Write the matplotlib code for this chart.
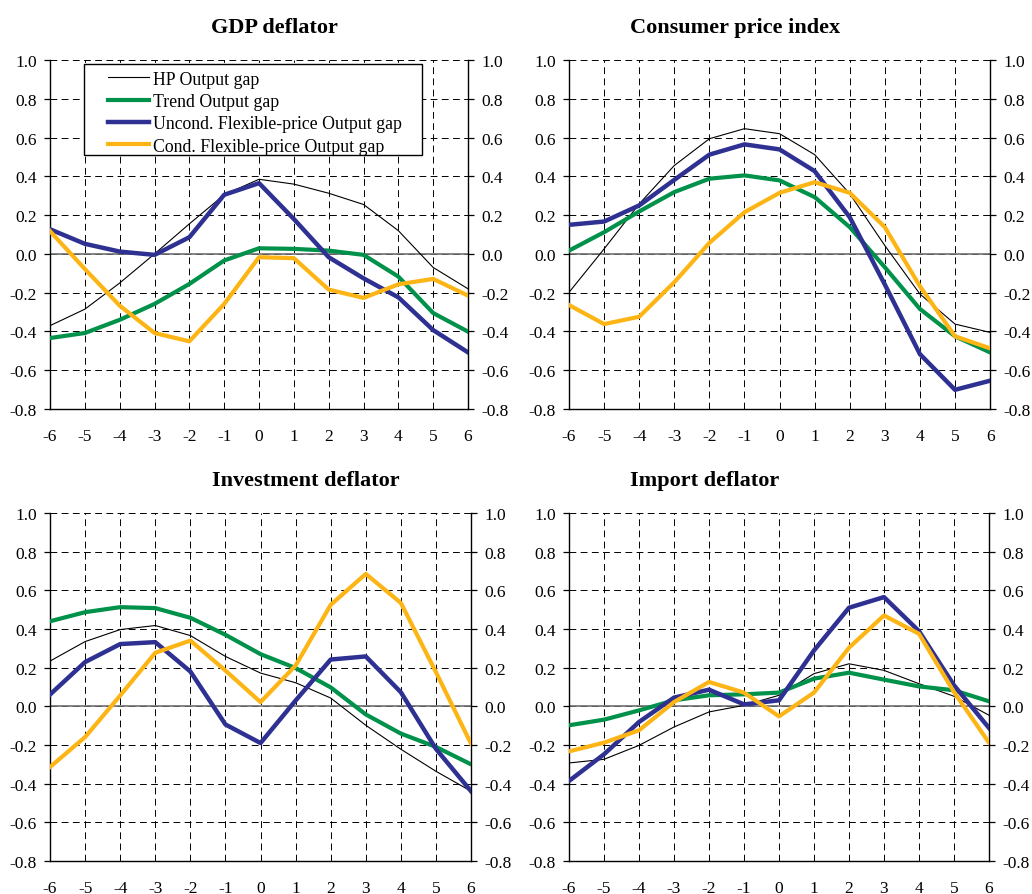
import matplotlib.pyplot as plt
from matplotlib.patches import Rectangle

plt.rcParams['font.family'] = ['Liberation Serif', 'DejaVu Serif']
plt.rcParams['axes.unicode_minus'] = False

# Horizons (quarters) of the cross-correlations
horizons = [-6, -5, -4, -3, -2, -1, 0, 1, 2, 3, 4, 5, 6]

series_names = ['HP Output gap', 'Trend Output gap',
                'Uncond. Flexible-price Output gap', 'Cond. Flexible-price Output gap']

# GDP deflator
gdp_hp = [-0.37, -0.285, -0.15, 0.0, 0.155, 0.305, 0.385, 0.36, 0.313, 0.255, 0.12, -0.07, -0.18]
gdp_trend = [-0.434, -0.408, -0.34, -0.258, -0.155, -0.034, 0.029, 0.026, 0.017, -0.005, -0.117, -0.305, -0.401]
gdp_uncond = [0.127, 0.052, 0.012, -0.005, 0.086, 0.305, 0.365, 0.18, -0.017, -0.126, -0.224, -0.393, -0.508]
gdp_cond = [0.117, -0.078, -0.267, -0.408, -0.451, -0.258, -0.017, -0.022, -0.184, -0.227, -0.157, -0.129, -0.215]

# Consumer price index
cpi_hp = [-0.198, 0.026, 0.258, 0.456, 0.594, 0.646, 0.62, 0.512, 0.31, 0.043, -0.207, -0.362, -0.405]
cpi_trend = [0.017, 0.112, 0.219, 0.319, 0.388, 0.405, 0.379, 0.293, 0.138, -0.069, -0.284, -0.425, -0.508]
cpi_uncond = [0.15, 0.167, 0.25, 0.382, 0.512, 0.565, 0.539, 0.427, 0.189, -0.158, -0.517, -0.701, -0.654]
cpi_cond = [-0.264, -0.362, -0.324, -0.146, 0.057, 0.215, 0.315, 0.37, 0.315, 0.138, -0.167, -0.425, -0.487]

# Investment deflator
inv_hp = [0.234, 0.335, 0.397, 0.418, 0.366, 0.258, 0.172, 0.122, 0.043, -0.098, -0.222, -0.336, -0.439]
inv_trend = [0.44, 0.487, 0.513, 0.508, 0.458, 0.37, 0.27, 0.198, 0.098, -0.042, -0.141, -0.21, -0.3]
inv_uncond = [0.061, 0.229, 0.322, 0.332, 0.18, -0.094, -0.19, 0.03, 0.242, 0.258, 0.073, -0.22, -0.439]
inv_cond = [-0.314, -0.159, 0.056, 0.277, 0.34, 0.185, 0.022, 0.211, 0.525, 0.685, 0.535, 0.177, -0.193]

# Import deflator
imp_hp = [-0.293, -0.274, -0.202, -0.107, -0.029, 0.005, 0.057, 0.169, 0.22, 0.186, 0.117, 0.052, -0.046]
imp_trend = [-0.098, -0.069, -0.021, 0.031, 0.057, 0.062, 0.071, 0.143, 0.174, 0.138, 0.103, 0.083, 0.026]
imp_uncond = [-0.386, -0.248, -0.081, 0.045, 0.086, 0.01, 0.031, 0.289, 0.51, 0.565, 0.389, 0.109, -0.112]
imp_cond = [-0.233, -0.188, -0.124, 0.022, 0.126, 0.071, -0.052, 0.071, 0.303, 0.47, 0.375, 0.074, -0.188]

panels = [
    ('GDP deflator', [gdp_hp, gdp_trend, gdp_uncond, gdp_cond]),
    ('Consumer price index', [cpi_hp, cpi_trend, cpi_uncond, cpi_cond]),
    ('Investment deflator', [inv_hp, inv_trend, inv_uncond, inv_cond]),
    ('Import deflator', [imp_hp, imp_trend, imp_uncond, imp_cond]),
]

colors = ['black', '#00914A', '#2E3192', '#FDB515']
widths = [0.8, 3.0, 3.2, 3.0]

boxes = [
    [0.0485, 0.5419, 0.4050, 0.3899],
    [0.5514, 0.5419, 0.4080, 0.3899],
    [0.0485, 0.0369, 0.4079, 0.3888],
    [0.5514, 0.0369, 0.4069, 0.3888],
]
# titles are left aligned, x in axes fraction
title_x = [0.385, 0.145, 0.385, 0.145]

fig = plt.figure(figsize=(10.32, 8.95), dpi=100)

for i, (title, data) in enumerate(panels):
    ax = fig.add_axes(boxes[i])

    ax.axhline(0, color='#707070', linewidth=1.2, zorder=1)
    for serie, name, c, lw in zip(data, series_names, colors, widths):
        ax.plot(horizons, serie, color=c, linewidth=lw, label=name, zorder=3)

    ax.set_xlim(-6, 6)
    ax.set_ylim(-0.8, 1.0)
    ax.set_xticks(horizons)
    ax.set_yticks([-0.8, -0.6, -0.4, -0.2, 0.0, 0.2, 0.4, 0.6, 0.8, 1.0])
    ax.yaxis.set_major_formatter(plt.FormatStrFormatter('%.1f'))
    ax.grid(True, color='black', linestyle=(0, (7, 4.5)), linewidth=0.7, zorder=0)
    ax.set_axisbelow(True)

    ax.spines['top'].set_visible(False)
    for s in ['left', 'right', 'bottom']:
        ax.spines[s].set_linewidth(1.0)

    ax.tick_params(axis='x', length=0, pad=13.5, labelsize=12.5)
    ax.tick_params(axis='y', direction='out', length=4, width=0.9, pad=5.5,
                   left=True, right=True, labelleft=True, labelright=True, labelsize=12.5)

    ax.text(title_x[i], 1.08, title, transform=ax.transAxes, ha='left', va='baseline',
            fontsize=16, fontweight='bold')

    if i == 0:
        # legend box drawn by hand so it can be wider than the entries
        ax.add_patch(Rectangle((0.0813, 0.728), 0.8087, 0.2605, transform=ax.transAxes,
                               facecolor='white', edgecolor='black', linewidth=1.0, zorder=4))
        leg = ax.legend(loc='upper left', bbox_to_anchor=(0.138, 0.970), borderaxespad=0,
                        fontsize=12.8, handlelength=2.3, handletextpad=0.25,
                        labelspacing=0.3, borderpad=0, frameon=False)
        leg.set_zorder(5)

plt.savefig('out.png', dpi=100)
